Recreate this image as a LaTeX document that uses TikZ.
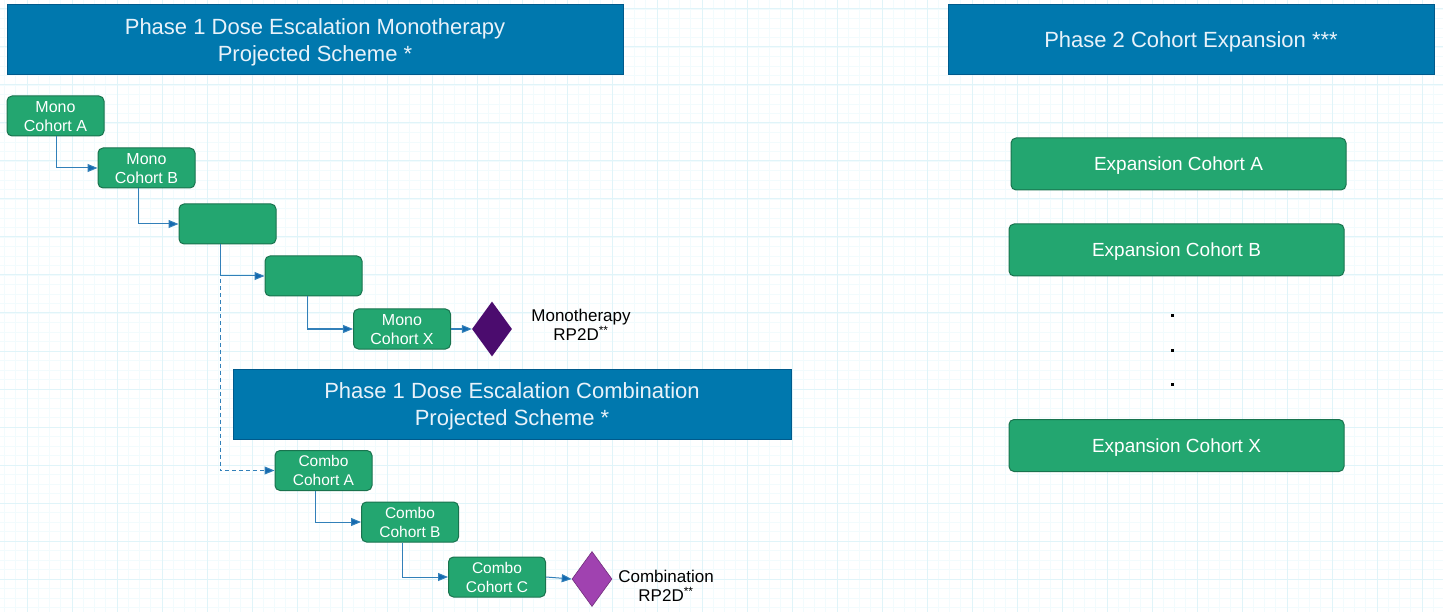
\documentclass[tikz,border=0pt]{standalone}
\usepackage{fontspec}
\setmainfont{Liberation Sans}
\usetikzlibrary{shapes.geometric,arrows.meta}
\definecolor{hdrblue}{RGB}{0,120,174}
\definecolor{hdrborder}{RGB}{0,90,140}
\definecolor{boxgreen}{RGB}{35,166,112}
\definecolor{boxborder}{RGB}{25,115,78}
\definecolor{conblue}{RGB}{50,128,185}
\definecolor{tipblue}{RGB}{20,105,175}
\definecolor{gridminor}{RGB}{242,251,253}
\definecolor{gridmajor}{RGB}{224,244,249}
\definecolor{monopurple}{RGB}{75,12,110}
\definecolor{combopurple}{RGB}{160,66,176}
\definecolor{hdrtext}{RGB}{232,242,250}
\tikzset{
  header/.style={draw=hdrborder, line width=1pt, fill=hdrblue, text=hdrtext, font=\fontsize{22}{27}\selectfont, align=center, inner sep=0pt, text depth=0pt},
  cohort/.style={draw=boxborder, line width=1pt, fill=boxgreen, text=white, rounded corners=5pt, align=center, inner sep=0pt, minimum width=97pt, minimum height=40pt, text depth=0pt},
  mono/.style={cohort, font=\fontsize{16}{19}\selectfont},
  combo/.style={cohort, font=\fontsize{15.5}{19}\selectfont},
  expansion/.style={cohort, minimum width=335pt, minimum height=52pt, font=\fontsize{19}{23}\selectfont},
  conn/.style={draw=conblue, line width=1pt, -{Triangle[length=10pt,width=8pt,fill=tipblue]}},
  rp2d/.style={diamond, draw=none, inner sep=0pt, minimum width=40pt, minimum height=55pt},
  lbl/.style={text=black, align=center, font=\fontsize{17}{18.5}\selectfont, inner sep=0pt},
  dotmark/.style={fill=black, minimum size=3pt, inner sep=0pt}
}
\begin{document}
\begin{tikzpicture}[x=1pt,y=-1pt]
\useasboundingbox (0,0) rectangle (1443,612);
\fill[white] (0,0) rectangle (1443,612);
% minor grid
\foreach \i in {0,...,130} {
  \pgfmathsetmacro\gx{27+11.25*(\i-3)}
  \draw[gridminor, line width=0.7pt] (\gx,0) -- (\gx,612);
}
\foreach \j in {0,...,70} {
  \pgfmathsetmacro\gy{9+9.5*(\j-1)}
  \draw[gridminor, line width=0.7pt] (0,\gy) -- (1443,\gy);
}
% major grid
\foreach \i in {0,...,32} {
  \pgfmathsetmacro\gx{27+45*\i}
  \draw[gridmajor, line width=1pt] (\gx,0) -- (\gx,612);
}
\foreach \j in {0,...,16} {
  \pgfmathsetmacro\gy{9+38*\j}
  \draw[gridmajor, line width=1pt] (0,\gy) -- (1443,\gy);
}

% headers
\node[header, minimum width=616pt, minimum height=70pt] (h1) at (315,40) {Phase 1 Dose Escalation Monotherapy\\Projected Scheme *};
\node[header, minimum width=486pt, minimum height=70pt] (h2) at (1191,40) {Phase 2 Cohort Expansion ***};
\node[header, minimum width=558pt, minimum height=70pt] (h3) at (512,404) {Phase 1 Dose Escalation Combination\\Projected Scheme *};

% mono cohorts
\node[mono] (ma) at (55.5,116) {Mono\\Cohort A};
\node[mono] (mb) at (146.5,168) {Mono\\Cohort B};
\node[mono] (m3) at (227.5,224) {};
\node[mono] (m4) at (313.5,276) {};
\node[mono] (mx) at (402,329) {Mono\\Cohort X};
\node[rp2d, fill=monopurple] (dm) at (492,329) {};
\node[lbl] (lm) at (581,325) {Monotherapy\\RP2D\textsuperscript{**}};

% combo cohorts
\node[combo] (ca) at (323.5,470.5) {Combo\\Cohort A};
\node[combo] (cb) at (410,522) {Combo\\Cohort B};
\node[combo] (cc) at (497,577) {Combo\\Cohort C};
\node[rp2d, fill=combopurple, draw=combopurple!70!black, line width=0.6pt] (dc) at (592,579) {};
\node[lbl] (lc) at (666,586) {Combination\\RP2D\textsuperscript{**}};

% expansion cohorts
\node[expansion] (ea) at (1178.5,164) {Expansion Cohort A};
\node[expansion] (eb) at (1176.5,250) {Expansion Cohort B};
\node[expansion] (ex) at (1176.5,445.5) {Expansion Cohort X};
\node[dotmark] (d1) at (1172,316) {};
\node[dotmark] (d2) at (1172,350) {};
\node[dotmark] (d3) at (1172,384) {};

% connectors
\draw[conn, dashed, dash pattern=on 4pt off 3pt] ([xshift=-7.5pt]m3.south) |- (ca.west);
\draw[conn] ([xshift=0.5pt]ma.south) |- (mb.west);
\draw[conn] ([xshift=-8.5pt]mb.south) |- (m3.west);
\draw[conn] ([xshift=-7.5pt]m3.south) |- (m4.west);
\draw[conn] ([xshift=-6.5pt]m4.south) |- (mx.west);
\draw[conn] (mx.east) -- (dm.west);
\draw[conn] ([xshift=-8.5pt]ca.south) |- (cb.west);
\draw[conn] ([xshift=-8pt]cb.south) |- (cc.west);
\draw[conn] (cc.east) -- (dc.west);
\end{tikzpicture}
\end{document}
